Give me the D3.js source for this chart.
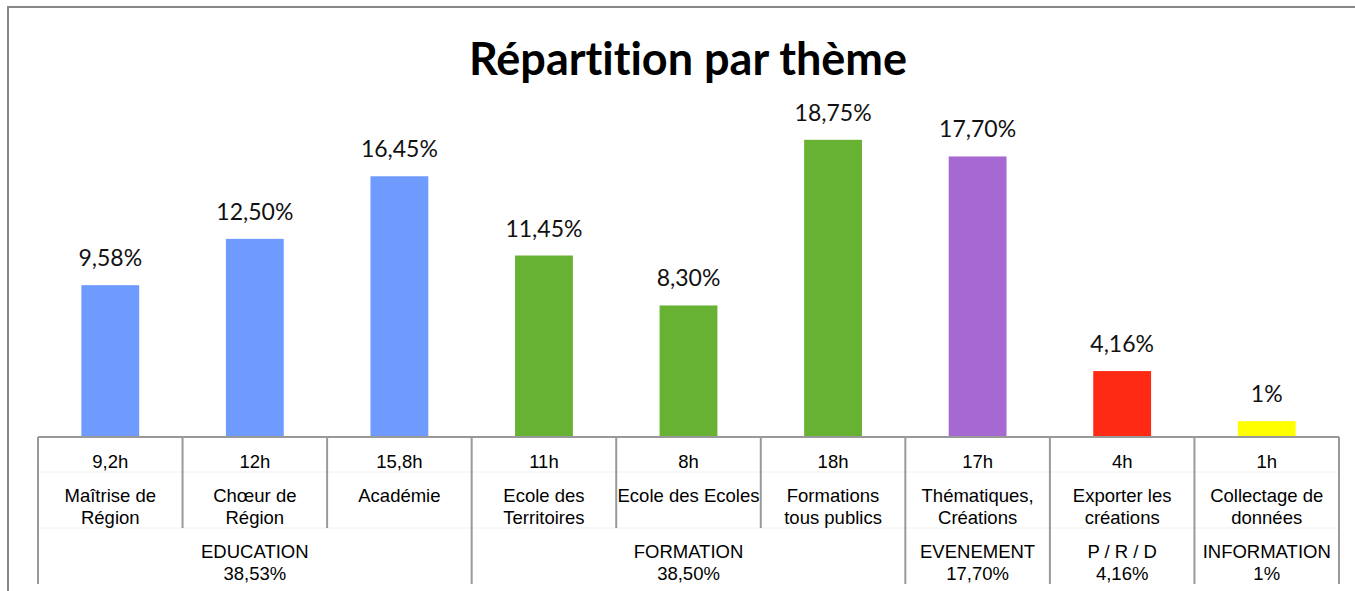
<!DOCTYPE html>
<html>
<head>
<meta charset="utf-8">
<script src="https://cdn.jsdelivr.net/npm/d3@7"></script>
<style>
  body { margin: 0; background: #fff; }
  svg { display: block; }
  text { font-variant-ligatures: none; }
</style>
</head>
<body>
<div id="chart"></div>
<script>
const categories = ["Maîtrise de Région", "Chœur de Région", "Académie", "Ecole des Territoires",
    "Ecole des Ecoles", "Formations tous publics", "Thématiques, Créations", "Exporter les créations",
    "Collectage de données"];
const categoryLines = [["Maîtrise de", "Région"], ["Chœur de", "Région"], ["Académie"],
    ["Ecole des", "Territoires"], ["Ecole des Ecoles"], ["Formations", "tous publics"],
    ["Thématiques,", "Créations"], ["Exporter les", "créations"], ["Collectage de", "données"]];
const values = [9.58, 12.50, 16.45, 11.45, 8.30, 18.75, 17.70, 4.16, 1];
const valueLabels = ["9,58%", "12,50%", "16,45%", "11,45%", "8,30%", "18,75%", "17,70%", "4,16%", "1%"];
const hours = ["9,2h", "12h", "15,8h", "11h", "8h", "18h", "17h", "4h", "1h"];
const groupNames = ["EDUCATION", "FORMATION", "EVENEMENT", "P / R / D", "INFORMATION"];
const groupShares = ["38,53%", "38,50%", "17,70%", "4,16%", "1%"];
const groupSizes = [3, 3, 1, 1, 1];
const groupColors = ["#6f9bff", "#67b133", "#a668d1", "#ff2a14", "#ffff00"];

const width = 1355, height = 591;
const axisY = 437;

const svg = d3.select("#chart").append("svg")
    .attr("width", width)
    .attr("height", height);

// chart frame (clipped on the right and bottom)
svg.append("path")
    .attr("d", `M8,${height + 2} L8,7 L${width + 2},7`)
    .attr("fill", "none")
    .attr("stroke", "#888")
    .attr("stroke-width", 2);

svg.append("text")
    .attr("x", 688)
    .attr("y", 75)
    .attr("text-anchor", "middle")
    .style("font-family", "Lato, sans-serif")
    .style("font-weight", "bold")
    .style("font-size", "45px")
    .text("Répartition par thème");

const x = d3.scaleBand()
    .domain(categories)
    .range([38, 1339])
    .padding(0);

const y = d3.scaleLinear()
    .domain([0, 20])
    .range([axisY, 120]);

// which group each category belongs to
const groupOf = [];
groupSizes.forEach((n, g) => { for (let i = 0; i < n; i++) groupOf.push(g); });

const data = categories.map((c, i) => ({
    cat: c, value: values[i], label: valueLabels[i], hours: hours[i],
    lines: categoryLines[i], group: groupOf[i]
}));

const barW = x.bandwidth() * 0.4;

svg.selectAll(".bar")
    .data(data)
    .enter()
    .append("rect")
    .attr("class", "bar")
    .attr("x", d => x(d.cat) + (x.bandwidth() - barW) / 2)
    .attr("y", d => y(d.value))
    .attr("width", barW)
    .attr("height", d => axisY - y(d.value))
    .attr("fill", d => groupColors[d.group]);

svg.selectAll(".val")
    .data(data)
    .enter()
    .append("text")
    .attr("class", "val")
    .attr("x", d => x(d.cat) + x.bandwidth() / 2)
    .attr("y", d => y(d.value) - 19)
    .attr("text-anchor", "middle")
    .style("font-family", "Lato, sans-serif")
    .style("font-size", "23px")
    .attr("fill", "#111")
    .text(d => d.label);

// faint table rows under the axis
[472, 528].forEach(yy => {
    svg.append("line")
        .attr("x1", 38).attr("x2", 1339)
        .attr("y1", yy).attr("y2", yy)
        .attr("stroke", "#f0f0f0");
});

// axis line
svg.append("line")
    .attr("x1", 38).attr("x2", 1339)
    .attr("y1", axisY).attr("y2", axisY)
    .attr("stroke", "#999")
    .attr("stroke-width", 2);

// dividers: long ones at group edges, short ones inside groups
const groupEdges = [0];
groupSizes.forEach(n => groupEdges.push(groupEdges[groupEdges.length - 1] + n));
const step = x.step();
d3.range(categories.length + 1).forEach(i => {
    const xx = 38 + i * step;
    const long = groupEdges.includes(i);
    svg.append("line")
        .attr("x1", xx).attr("x2", xx)
        .attr("y1", axisY).attr("y2", long ? 584 : 528)
        .attr("stroke", "#999")
        .attr("stroke-width", 2);
});

const labelFont = "'Liberation Sans', Arial, sans-serif";
const labelSize = "18.5px";

svg.selectAll(".hours")
    .data(data)
    .enter()
    .append("text")
    .attr("class", "hours")
    .attr("x", d => x(d.cat) + x.bandwidth() / 2)
    .attr("y", 468)
    .attr("text-anchor", "middle")
    .style("font-family", labelFont)
    .style("font-size", labelSize)
    .text(d => d.hours);

const catText = svg.selectAll(".cat")
    .data(data)
    .enter()
    .append("text")
    .attr("class", "cat")
    .attr("text-anchor", "middle")
    .style("font-family", labelFont)
    .style("font-size", labelSize);

catText.selectAll("tspan")
    .data(d => d.lines.map(l => ({ l, cx: x(d.cat) + x.bandwidth() / 2 })))
    .enter()
    .append("tspan")
    .attr("x", t => t.cx)
    .attr("y", (t, i) => 502 + i * 21.5)
    .text(t => t.l);

groupNames.forEach((g, gi) => {
    const cx = 38 + (groupEdges[gi] + groupEdges[gi + 1]) / 2 * step;
    [g, groupShares[gi]].forEach((t, j) => {
        svg.append("text")
            .attr("x", cx)
            .attr("y", 558 + j * 22)
            .attr("text-anchor", "middle")
            .style("font-family", labelFont)
            .style("font-size", labelSize)
            .text(t);
    });
});
</script>
</body>
</html>
